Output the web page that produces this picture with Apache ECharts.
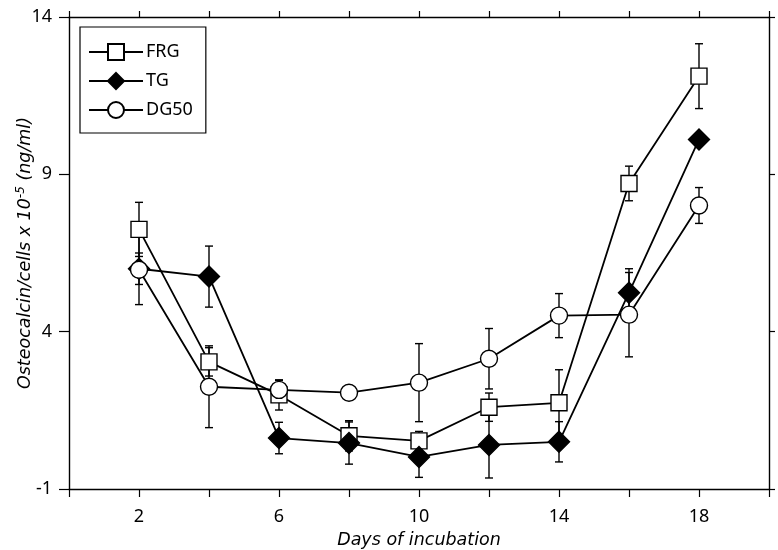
<!DOCTYPE html>
<html>
<head>
<meta charset="utf-8">
<script src="https://cdn.jsdelivr.net/npm/echarts@6/dist/echarts.min.js"></script>
<style>html,body{margin:0;padding:0;background:#fff;}#c{width:778px;height:550px;}</style>
</head>
<body>
<div id="c"></div>
<script>
// Data
const days = [2, 4, 6, 8, 10, 12, 14, 16, 18];
const frg = [7.25, 3.04, 1.99, 0.69, 0.53, 1.60, 1.74, 8.71, 12.12];
const frgErr = [0.86, 0.45, 0.48, 0.48, 0.30, 0.45, 1.05, 0.55, 1.03];
const tg = [6.0, 5.75, 0.62, 0.46, 0.02, 0.40, 0.50, 5.24, 10.11];
const tgErr = [0.50, 0.97, 0.50, 0.67, 0.65, 1.05, 0.64, 0.76, 0.20];
const dg50 = [5.97, 2.25, 2.15, 2.06, 2.38, 3.14, 4.51, 4.54, 8.01];
const dg50Err = [1.11, 1.30, 0.30, 0.20, 1.24, 0.96, 0.70, 1.34, 0.57];
const xTickLabels = [2, 6, 10, 14, 18];
const yTickLabels = [-1, 4, 9, 14];

const pts = (vals) => days.map((d, i) => [d, vals[i]]);
const errs = (vals, e) => days.map((d, i) => [d, vals[i] - e[i], vals[i] + e[i]]);

function errRender(params, api) {
  const x = api.value(0);
  const lo = api.coord([x, api.value(1)]);
  const hi = api.coord([x, api.value(2)]);
  const cw = 4;
  const st = { stroke: '#000', lineWidth: 1.4 };
  return {
    type: 'group',
    children: [
      { type: 'line', shape: { x1: lo[0], y1: lo[1], x2: hi[0], y2: hi[1] }, style: st },
      { type: 'line', shape: { x1: hi[0] - cw, y1: hi[1], x2: hi[0] + cw, y2: hi[1] }, style: st },
      { type: 'line', shape: { x1: lo[0] - cw, y1: lo[1], x2: lo[0] + cw, y2: lo[1] }, style: st }
    ]
  };
}

const font = 'Noto Sans';
const nameFont = 'DejaVu Sans';
const chart = echarts.init(document.getElementById('c'), null, { renderer: 'canvas' });

function lineSeries(name, vals, symbol, size, fill, z) {
  return {
    name: name, type: 'line', data: pts(vals), z: z,
    symbol: symbol, symbolSize: size, showAllSymbol: true,
    lineStyle: { color: '#000', width: 1.8 },
    itemStyle: { color: fill, borderColor: '#000', borderWidth: 1.4 },
    emphasis: { disabled: true }
  };
}
function errSeries(vals, e) {
  return { type: 'custom', data: errs(vals, e), renderItem: errRender, z: 1, silent: true };
}

const option = {
  animation: false,
  backgroundColor: '#fff',
  grid: { left: 69, right: 9, top: 17, bottom: 61, containLabel: false, outerBoundsMode: 'none' },
  legend: {
    orient: 'vertical', left: 80, top: 27,
    data: ['FRG', 'TG', 'DG50'],
    itemWidth: 54, itemHeight: 20, itemGap: 11,
    padding: [16, 13, 14, 8],
    borderColor: '#000', borderWidth: 1.2,
    textStyle: { fontFamily: font, fontSize: 18, color: '#000', padding: [0, 0, 0, -2] }
  },
  xAxis: [{
    type: 'value', min: 0, max: 20, interval: 2,
    name: 'Days of incubation', nameLocation: 'middle', nameGap: 42, nameMoveOverlap: false,
    nameTextStyle: { fontFamily: nameFont, fontStyle: 'italic', fontSize: 17.5, color: '#000' },
    axisLine: { onZero: false, lineStyle: { color: '#000', width: 1.4 } },
    axisTick: { inside: false, length: 8, lineStyle: { color: '#000', width: 1.2 } },
    axisLabel: { margin: 19, fontFamily: font, fontSize: 18, color: '#000',
      formatter: v => xTickLabels.includes(v) ? String(v) : '' },
    splitLine: { show: false }
  }, {
    type: 'value', position: 'top', min: 0, max: 20, interval: 2,
    axisLine: { show: true, onZero: false, lineStyle: { color: '#000', width: 1.4 } },
    axisTick: { inside: false, length: 6, lineStyle: { color: '#000', width: 1.2 } },
    axisLabel: { show: false }, splitLine: { show: false }
  }],
  yAxis: [{
    type: 'value', min: -1, max: 14, interval: 5,
    name: '{a|Osteocalcin/cells x 10}{s|-5}{a| (ng/ml)}',
    nameLocation: 'middle', nameGap: 33, nameRotate: 90, nameMoveOverlap: false,
    nameTextStyle: {
      rich: {
        a: { fontFamily: nameFont, fontStyle: 'italic', fontSize: 17.5, color: '#000' },
        s: { fontFamily: nameFont, fontStyle: 'italic', fontSize: 12, color: '#000', verticalAlign: 'bottom', padding: [0, 0, 9, 0] }
      }
    },
    axisLine: { show: true, onZero: false, lineStyle: { color: '#000', width: 1.4 } },
    axisTick: { inside: false, length: 10, lineStyle: { color: '#000', width: 1.2 } },
    axisLabel: { margin: 17, fontFamily: font, fontSize: 18, color: '#000',
      formatter: v => yTickLabels.includes(v) ? String(v) : '' },
    splitLine: { show: false }
  }, {
    type: 'value', position: 'right', min: -1, max: 14, interval: 5,
    axisLine: { show: true, onZero: false, lineStyle: { color: '#000', width: 1.4 } },
    axisTick: { inside: false, length: 6, lineStyle: { color: '#000', width: 1.2 } },
    axisLabel: { show: false }, splitLine: { show: false }
  }],
  series: [
    errSeries(frg, frgErr),
    errSeries(tg, tgErr),
    errSeries(dg50, dg50Err),
    lineSeries('FRG', frg, 'rect', 16, '#fff', 3),
    lineSeries('TG', tg, 'diamond', 21, '#000', 4),
    lineSeries('DG50', dg50, 'circle', 17, '#fff', 5)
  ]
};
chart.setOption(option);
</script>
</body>
</html>
